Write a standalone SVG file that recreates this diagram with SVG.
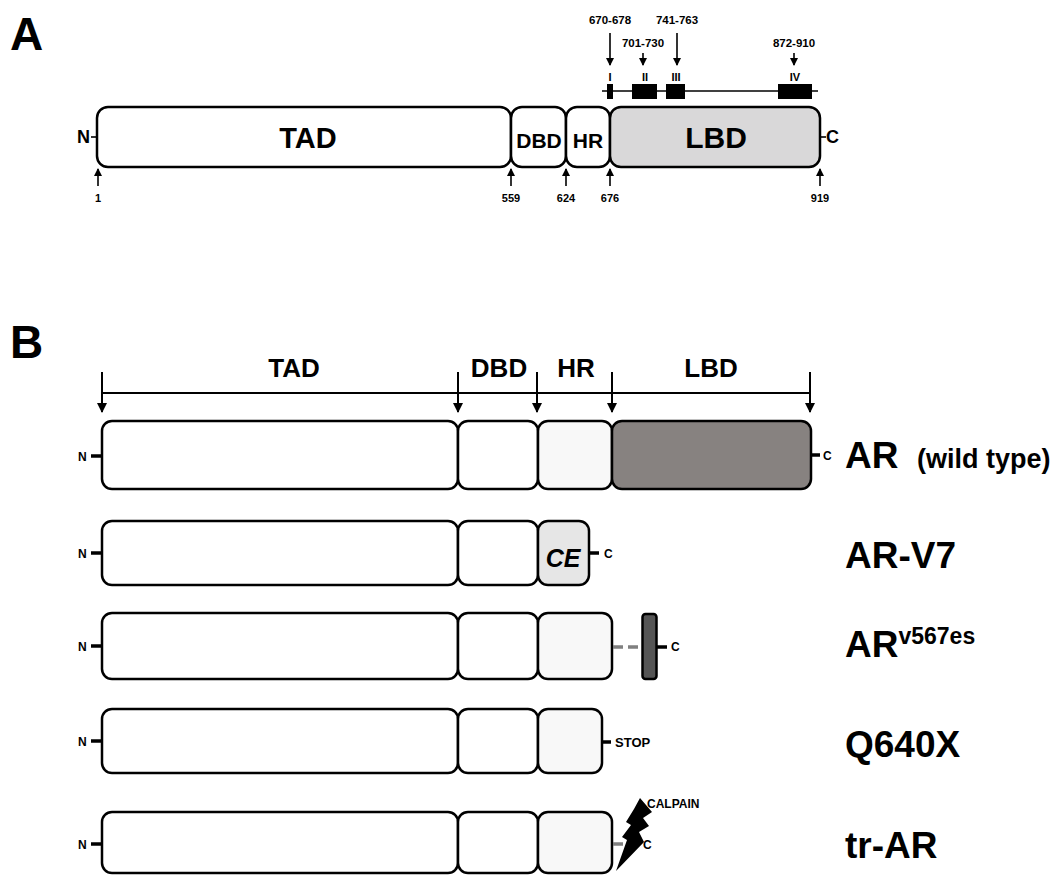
<svg xmlns="http://www.w3.org/2000/svg" width="1059" height="875" viewBox="0 0 1059 875">
<style>
text{font-family:"Liberation Sans",Arial,sans-serif;font-weight:bold;fill:#000}
.box{stroke:#000;stroke-width:2.5}
.ln{stroke:#000;stroke-width:1.6;fill:none}
.hd{stroke:#000;stroke-width:2;fill:none}
.tk{stroke:#000;stroke-width:3.5}
.dash{stroke:#808080;stroke-width:3.5;stroke-dasharray:10 5;fill:none}
.mid{text-anchor:middle}
</style>
<defs>
<marker id="ah" markerWidth="8" markerHeight="8" refX="7" refY="4" orient="auto" markerUnits="userSpaceOnUse">
<path d="M0,0 L8,4 L0,8 Z" fill="#000"/>
</marker>
<marker id="ah2" markerWidth="10" markerHeight="10" refX="9" refY="5" orient="auto" markerUnits="userSpaceOnUse">
<path d="M0,0 L10,5 L0,10 Z" fill="#000"/>
</marker>
</defs>

<text x="10" y="50" font-size="46">A</text>
<text x="10" y="358" font-size="46">B</text>

<!-- Panel A -->
<g id="A-TAD"><rect class="box" x="97" y="107" width="414" height="60" rx="11" fill="#fff"/><text class="mid" x="308" y="148" font-size="29">TAD</text></g>
<g id="A-DBD"><rect class="box" x="511" y="107" width="55" height="60" rx="11" fill="#fff"/><text class="mid" x="539" y="148" font-size="21">DBD</text></g>
<g id="A-HR"><rect class="box" x="566" y="107" width="44" height="60" rx="11" fill="#fff"/><text class="mid" x="588" y="148" font-size="21">HR</text></g>
<g id="A-LBD"><rect class="box" x="610" y="107" width="210" height="60" rx="11" fill="#d9d8d9"/><text class="mid" x="716" y="148" font-size="30">LBD</text></g>
<g id="A-N"><text x="77" y="143" font-size="18">N</text></g>
<g id="A-C"><text x="826" y="143" font-size="18">C</text></g>
<g id="A-pos">
<text class="mid" x="98" y="202" font-size="11">1</text>
<text class="mid" x="511" y="202" font-size="11">559</text>
<text class="mid" x="566" y="202" font-size="11">624</text>
<text class="mid" x="610" y="202" font-size="11">676</text>
<text class="mid" x="820" y="202" font-size="11">919</text>
</g>
<g id="A-subdomains">
<line class="ln" x1="602" y1="91" x2="818" y2="91"/>
<rect x="607" y="84" width="6" height="15" fill="#000"/>
<rect x="632" y="84" width="25" height="15" fill="#000"/>
<rect x="666" y="84" width="19" height="15" fill="#000"/>
<rect x="778" y="84" width="34" height="15" fill="#000"/>
<text class="mid" x="610" y="81" font-size="11">I</text>
<text class="mid" x="645" y="81" font-size="11">II</text>
<text class="mid" x="676" y="81" font-size="11">III</text>
<text class="mid" x="795" y="81" font-size="11">IV</text>
<text class="mid" x="610" y="24" font-size="11.5">670-678</text>
<text class="mid" x="643" y="47" font-size="11.5">701-730</text>
<text class="mid" x="677" y="24" font-size="11.5">741-763</text>
<text class="mid" x="794" y="47" font-size="11.5">872-910</text>
</g>

<!-- Panel B header -->
<g id="B-header">
<text class="mid" x="294" y="377" font-size="26">TAD</text>
<text class="mid" x="499" y="377" font-size="26">DBD</text>
<text class="mid" x="576" y="377" font-size="26">HR</text>
<text class="mid" x="711" y="377" font-size="26">LBD</text>
</g>

<!-- Row 1 AR -->
<g id="AR-wt">
<rect class="box" x="102" y="421" width="356" height="68" rx="10" fill="#fff"/>
<rect class="box" x="458" y="421" width="80" height="68" rx="10" fill="#fff"/>
<rect class="box" x="538" y="421" width="74" height="68" rx="10" fill="#f8f8f8"/>
<rect class="box" x="612" y="421" width="199" height="68" rx="10" fill="#878280"/>
<text x="78" y="461" font-size="12">N</text>
<text x="823" y="460" font-size="12">C</text>
<text x="845" y="468" font-size="37">AR</text>
<text x="917" y="468" font-size="27">(wild type)</text>
</g>

<!-- Row 2 AR-V7 -->
<g id="AR-V7">
<rect class="box" x="102" y="521" width="356" height="64" rx="10" fill="#fff"/>
<rect class="box" x="458" y="521" width="80" height="64" rx="10" fill="#fff"/>
<rect class="box" x="538" y="521" width="51" height="64" rx="10" fill="#e6e6e6"/>
<text class="mid" x="563" y="567" font-size="25" font-style="italic">CE</text>
<text x="78" y="558" font-size="12">N</text>
<text x="604" y="558" font-size="12">C</text>
<text x="845" y="568" font-size="37">AR-V7</text>
</g>

<!-- Row 3 ARv567es -->
<g id="AR-v567es">
<rect class="box" x="102" y="613" width="356" height="66" rx="10" fill="#fff"/>
<rect class="box" x="458" y="613" width="80" height="66" rx="10" fill="#fff"/>
<rect class="box" x="538" y="613" width="74" height="66" rx="10" fill="#f8f8f8"/>
<rect x="642.5" y="614" width="14" height="65" rx="3" fill="#555" stroke="#000" stroke-width="2.5"/>
<text x="78" y="651" font-size="12">N</text>
<text x="671" y="651" font-size="12">C</text>
<text x="845" y="657" font-size="37">AR<tspan font-size="23" dy="-13">v567es</tspan></text>
</g>

<!-- Row 4 Q640X -->
<g id="Q640X">
<rect class="box" x="102" y="709" width="356" height="64" rx="10" fill="#fff"/>
<rect class="box" x="458" y="709" width="80" height="64" rx="10" fill="#fff"/>
<rect class="box" x="538" y="709" width="64" height="64" rx="10" fill="#f8f8f8"/>
<text x="78" y="746" font-size="12">N</text>
<text x="615" y="747" font-size="13">STOP</text>
<text x="845" y="757" font-size="37">Q640X</text>
</g>

<!-- Row 5 tr-AR -->
<g id="tr-AR">
<rect class="box" x="102" y="812" width="356" height="61" rx="10" fill="#fff"/>
<rect class="box" x="458" y="812" width="80" height="61" rx="10" fill="#fff"/>
<rect class="box" x="538" y="812" width="74" height="61" rx="10" fill="#f8f8f8"/>
<text x="78" y="849" font-size="12">N</text>
<text x="643" y="849" font-size="12">C</text>
<text x="845" y="858" font-size="37">tr-AR</text>
</g>

<g id="connectors">
<line class="ln" x1="91" y1="137" x2="97" y2="137"/>
<line class="ln" x1="820" y1="137" x2="826" y2="137"/>
<line class="ln" x1="98" y1="186" x2="98" y2="169" marker-end="url(#ah)"/>
<line class="ln" x1="511" y1="186" x2="511" y2="169" marker-end="url(#ah)"/>
<line class="ln" x1="566" y1="186" x2="566" y2="169" marker-end="url(#ah)"/>
<line class="ln" x1="610" y1="186" x2="610" y2="169" marker-end="url(#ah)"/>
<line class="ln" x1="820" y1="186" x2="820" y2="169" marker-end="url(#ah)"/>
<line class="ln" x1="610" y1="33" x2="610" y2="65" marker-end="url(#ah)"/>
<line class="ln" x1="643" y1="53" x2="643" y2="65" marker-end="url(#ah)"/>
<line class="ln" x1="677" y1="33" x2="677" y2="65" marker-end="url(#ah)"/>
<line class="ln" x1="794" y1="53" x2="794" y2="65" marker-end="url(#ah)"/>
<line class="hd" x1="102" y1="393" x2="810" y2="393"/>
<line class="hd" x1="102" y1="372" x2="102" y2="412" marker-end="url(#ah2)"/>
<line class="hd" x1="458" y1="372" x2="458" y2="412" marker-end="url(#ah2)"/>
<line class="hd" x1="537" y1="372" x2="537" y2="412" marker-end="url(#ah2)"/>
<line class="hd" x1="612" y1="372" x2="612" y2="412" marker-end="url(#ah2)"/>
<line class="hd" x1="810" y1="372" x2="810" y2="412" marker-end="url(#ah2)"/>
<line class="tk" x1="91" y1="456" x2="102" y2="456"/>
<line class="tk" x1="811" y1="455" x2="820" y2="455"/>
<line class="tk" x1="91" y1="553" x2="102" y2="553"/>
<line class="tk" x1="589" y1="553" x2="599" y2="553"/>
<line class="tk" x1="91" y1="646" x2="102" y2="646"/>
<line class="dash" x1="613" y1="647" x2="642" y2="647"/>
<line class="tk" x1="657" y1="647" x2="667" y2="647"/>
<line class="tk" x1="91" y1="741" x2="102" y2="741"/>
<line class="tk" x1="602" y1="742" x2="611" y2="742"/>
<line class="tk" x1="91" y1="844" x2="102" y2="844"/>
<line class="dash" x1="613" y1="844" x2="642" y2="844"/>
</g>

<g id="calpain">
<polygon points="640,798 652,812 643,818 649,826 639,832 644,842 616,871 627,840 622,837 631,825 626,822 634,809" fill="#000"/>
<text x="647" y="808" font-size="12">CALPAIN</text>
</g>
</svg>
